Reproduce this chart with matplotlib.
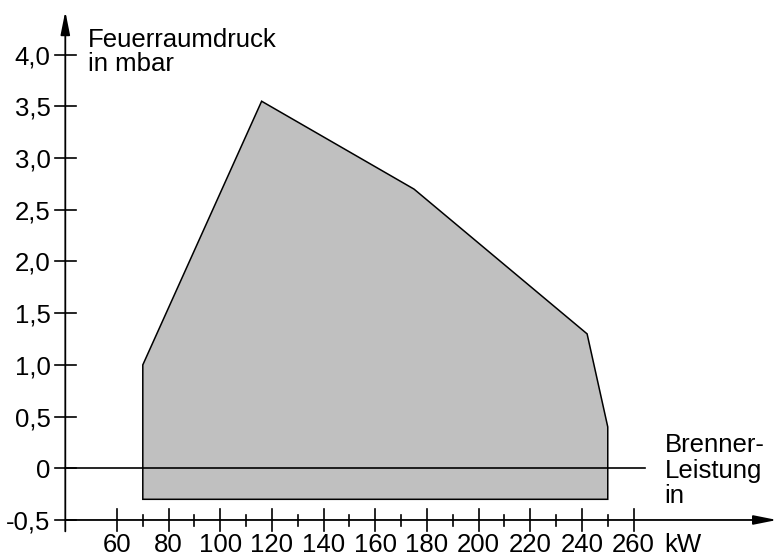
import numpy as np
from matplotlib import pyplot as plt

plt.rcParams['font.family'] = ['Liberation Sans', 'DejaVu Sans']

# operating field of the burner (power in kW, pressure in mbar)
field_x = [70, 70, 116, 175, 242, 250, 250]
field_y = [-0.3, 1.0, 3.55, 2.7, 1.3, 0.4, -0.3]

y_ticks = [-0.5, 0, 0.5, 1.0, 1.5, 2.0, 2.5, 3.0, 3.5, 4.0]
y_labels = ['-0,5', '0', '0,5', '1,0', '1,5', '2,0', '2,5', '3,0', '3,5', '4,0']
x_major = [60, 80, 100, 120, 140, 160, 180, 200, 220, 240, 260]
x_minor = [70, 90, 110, 130, 150, 170, 190, 210, 230, 250]

fs = 18.5

fig = plt.figure(figsize=(7.78, 5.57), dpi=100)
ax = fig.add_axes([0, 0, 1, 1])
ax.set_xlim(14.72, 315.9)
ax.set_ylim(-0.858, 4.529)
ax.axis('off')

ax.fill(field_x, field_y, facecolor='#c0c0c0', edgecolor='black', lw=1.1, zorder=1)
ax.plot([40, 264.5], [0, 0], color='black', lw=1.2, zorder=2)

# axes with arrows
arrow = dict(arrowstyle='-|>,head_length=1.4,head_width=0.28', color='black',
             lw=1.3, shrinkA=0, shrinkB=0)
ax.annotate('', xy=(40, 4.42), xytext=(40, -0.61), arrowprops=arrow)
ax.annotate('', xy=(315.5, -0.5), xytext=(40, -0.5), arrowprops=arrow)

for v, lab in zip(y_ticks, y_labels):
    ax.plot([36.0, 44.1], [v, v], color='black', lw=1.2)
    ax.text(34.3, v, lab, ha='right', va='center_baseline', fontsize=fs)

for v in x_major:
    ax.plot([v, v], [-0.39, -0.605], color='black', lw=1.2)
    ax.text(v, -0.812, str(v), ha='center', va='baseline', fontsize=fs)
for v in x_minor:
    ax.plot([v, v], [-0.45, -0.557], color='black', lw=1.2)

ax.text(48.6, 4.262, 'Feuerraumdruck\nin mbar', ha='left', va='top',
        fontsize=fs, linespacing=1.0)
ax.text(272.0, 0.345, 'Brenner-\nLeistung\nin', ha='left', va='top',
        fontsize=fs, linespacing=1.1)
ax.text(272.0, -0.812, 'kW', ha='left', va='baseline', fontsize=fs)

fig.savefig('out.png', dpi=100)
